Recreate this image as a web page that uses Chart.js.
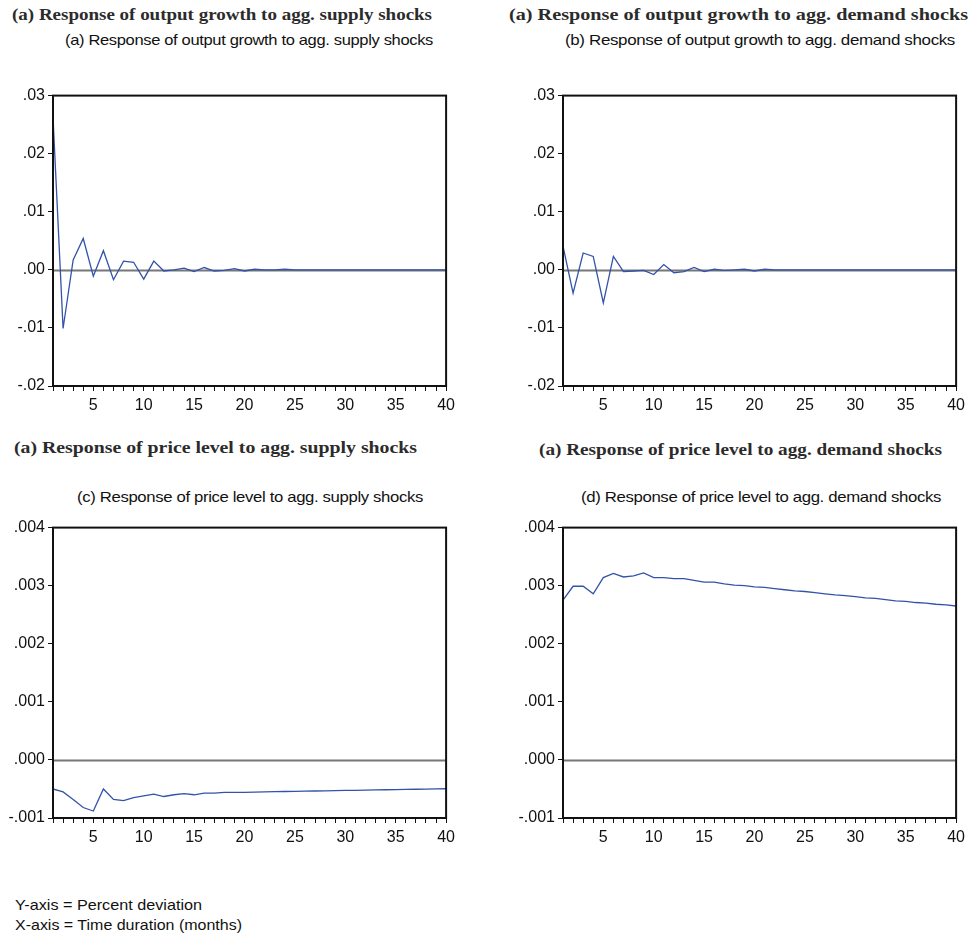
<!DOCTYPE html>
<html>
<head>
<meta charset="utf-8">
<script src="https://cdn.jsdelivr.net/npm/chart.js@4.4.1/dist/chart.umd.min.js"></script>
<style>
  html, body { margin: 0; padding: 0; background: #fff; }
  #page { position: relative; width: 970px; height: 934px; overflow: hidden; }
  .box { position: absolute; }
  .txt { position: absolute; white-space: nowrap; transform-origin: 0 50%; line-height: 1; }
  .head { font-family: "Liberation Serif", "DejaVu Serif", serif; font-weight: bold; font-size: 17.5px; color: #2b2b2b; }
  .sub { font-family: "Liberation Sans", Arial, sans-serif; font-size: 14.5px; color: #111; letter-spacing: -0.3px; }
  .note { font-family: "Liberation Sans", Arial, sans-serif; font-size: 14.5px; color: #111; }
</style>
</head>
<body>
<div id="page"></div>
<script>
// Impulse-response horizon (months)
const periods = [1, 2, 3, 4, 5, 6, 7, 8, 9, 10, 11, 12, 13, 14, 15, 16, 17, 18, 19, 20,
                 21, 22, 23, 24, 25, 26, 27, 28, 29, 30, 31, 32, 33, 34, 35, 36, 37, 38, 39, 40];
const xTickLabels = [5, 10, 15, 20, 25, 30, 35, 40];

// Output growth responses
const outputSupply = [0.0263, -0.0101, 0.0017, 0.0054, -0.0011, 0.0033, -0.0017, 0.0015, 0.0013, -0.0016,
                      0.0015, -0.0002, 0.0000, 0.0003, -0.0003, 0.0004, -0.0002, -0.0001, 0.0002, -0.0002,
                      0.0001, 0.0000, 0.0000, 0.0001, 0.0000, 0.0000, 0.0000, 0.0000, 0.0000, 0.0000,
                      0.0000, 0.0000, 0.0000, 0.0000, 0.0000, 0.0000, 0.0000, 0.0000, 0.0000, 0.0000];
const outputDemand = [0.0041, -0.0040, 0.0029, 0.0023, -0.0057, 0.0023, -0.0003, -0.0002, -0.0001, -0.0008,
                      0.0009, -0.0005, -0.0003, 0.0004, -0.0003, 0.0001, -0.0001, 0.0000, 0.0001, -0.0002,
                      0.0001, 0.0000, 0.0000, 0.0000, 0.0000, 0.0000, 0.0000, 0.0000, 0.0000, 0.0000,
                      0.0000, 0.0000, 0.0000, 0.0000, 0.0000, 0.0000, 0.0000, 0.0000, 0.0000, 0.0000];

// Price level responses
const priceSupply = [-0.00050, -0.00055, -0.00068, -0.00082, -0.00088, -0.00050, -0.00068, -0.00070, -0.00065, -0.00062,
                     -0.00059, -0.00063, -0.00060, -0.00058, -0.00060, -0.00057, -0.00057, -0.00056, -0.00056, -0.00056,
                     -0.000555, -0.000550, -0.000547, -0.000544, -0.000541, -0.000538, -0.000535, -0.000532, -0.000529, -0.000526,
                     -0.000523, -0.000520, -0.000517, -0.000514, -0.000511, -0.000508, -0.000505, -0.000502, -0.000499, -0.000496];
const priceDemand = [0.00275, 0.00299, 0.00299, 0.00286, 0.00314, 0.00321, 0.00315, 0.00317, 0.00322, 0.00314,
                     0.00314, 0.00312, 0.00312, 0.00309, 0.00306, 0.00306, 0.00303, 0.00301, 0.00300, 0.00298,
                     0.00297, 0.00295, 0.00293, 0.00291, 0.00290, 0.00288, 0.00286, 0.00284, 0.00283, 0.00281,
                     0.00279, 0.00278, 0.00276, 0.00274, 0.00273, 0.00271, 0.00270, 0.00268, 0.00267, 0.00265];

// Value-axis tick labels
const outputTicks = [-0.02, -0.01, 0.00, 0.01, 0.02, 0.03];
const priceTicks = [-0.001, 0.000, 0.001, 0.002, 0.003, 0.004];

// Headings
const headings = [
  { text: "(a) Response of output growth to agg. supply shocks", x: 12, y: 15, w: 420 },
  { text: "(a) Response of output growth to agg. demand shocks", x: 509, y: 15, w: 459 },
  { text: "(a) Response of price level to agg. supply shocks", x: 14, y: 448, w: 403 },
  { text: "(a) Response of price level to agg. demand shocks", x: 539, y: 450, w: 403 }
];
const subtitles = [
  "(a) Response of output growth to agg. supply shocks",
  "(b) Response of output growth to agg. demand shocks",
  "(c) Response of price level to agg. supply shocks",
  "(d) Response of price level to agg. demand shocks"
];
const subLayout = [
  { x: 65, y: 40, w: 368 },
  { x: 565, y: 40, w: 390 },
  { x: 77, y: 497, w: 346 },
  { x: 581, y: 497, w: 360 }
];
const notes = ["Y-axis = Percent deviation", "X-axis = Time duration (months)"];

const page = document.getElementById('page');

function placeText(cls, text, x, y, w) {
  const el = document.createElement('div');
  el.className = 'txt ' + cls;
  el.textContent = text;
  page.appendChild(el);
  const r = el.getBoundingClientRect();
  el.style.left = x + 'px';
  el.style.top = (y - r.height / 2) + 'px';
  if (w) el.style.transform = 'scaleX(' + (w / r.width) + ')';
}

headings.forEach(h => placeText('head', h.text, h.x, h.y, h.w));
subtitles.forEach((s, i) => placeText('sub', s, subLayout[i].x, subLayout[i].y, subLayout[i].w));
placeText('note', notes[0], 15, 905, 187);
placeText('note', notes[1], 15, 925, 227);

// Frame around the plot area and a zero reference line
const framePlugin = {
  id: 'frame',
  beforeDatasetsDraw(chart) {
    const { ctx, chartArea: a, scales: { y } } = chart;
    const z = Math.round(y.getPixelForValue(0)) + 0.5;
    ctx.save();
    ctx.strokeStyle = '#777';
    ctx.lineWidth = 2;
    ctx.beginPath();
    ctx.moveTo(a.left, z);
    ctx.lineTo(a.right, z);
    ctx.stroke();
    ctx.restore();
  },
  afterDatasetsDraw(chart) {
    const { ctx, chartArea: a } = chart;
    ctx.save();
    ctx.strokeStyle = '#111';
    ctx.lineWidth = 2;
    ctx.strokeRect(a.left, a.top, a.right - a.left, a.bottom - a.top);
    ctx.restore();
  }
};

function fmt(v, d) {
  return v.toFixed(d).replace(/^(-?)0\./, '$1.');
}

const tickFont = { family: '"Liberation Sans", Arial, sans-serif', size: 16 };

function makeChart(left, top, values, yTicks, decimals) {
  const W = 460, H = 330;
  const holder = document.createElement('div');
  holder.className = 'box';
  holder.style.left = left + 'px';
  holder.style.top = top + 'px';
  const cv = document.createElement('canvas');
  cv.width = W; cv.height = H;
  cv.style.width = W + 'px'; cv.style.height = H + 'px';
  holder.appendChild(cv);
  page.appendChild(holder);

  const step = yTicks[1] - yTicks[0];
  new Chart(cv, {
    type: 'line',
    data: {
      datasets: [{
        data: periods.map((p, i) => ({ x: p, y: values[i] })),
        borderColor: '#3353aa',
        borderWidth: 1.3,
        pointRadius: 0,
        tension: 0,
        fill: false
      }]
    },
    options: {
      responsive: false,
      animation: false,
      devicePixelRatio: 1,
      layout: { padding: { left: 0, top: 10, right: 13, bottom: 0 } },
      plugins: { legend: { display: false }, tooltip: { enabled: false }, title: { display: false } },
      scales: {
        x: {
          type: 'linear',
          min: periods[0],
          max: periods[periods.length - 1],
          afterFit(s) { s.height = 27; },
          border: { display: false },
          grid: { drawOnChartArea: false, drawTicks: true, tickLength: 5, color: '#111', lineWidth: 1 },
          ticks: {
            stepSize: 1,
            autoSkip: false,
            maxTicksLimit: 100,
            maxRotation: 0,
            padding: 5,
            color: '#111',
            font: tickFont,
            callback: v => xTickLabels.includes(v) ? String(v) : ''
          }
        },
        y: {
          min: yTicks[0],
          max: yTicks[yTicks.length - 1],
          afterFit(s) { s.width = 53; },
          afterBuildTicks(s) { s.ticks = yTicks.map(v => ({ value: v })); },
          border: { display: false },
          grid: { drawOnChartArea: false, drawTicks: true, tickLength: 5, color: '#111', lineWidth: 1 },
          ticks: {
            stepSize: step,
            padding: 3,
            color: '#111',
            font: tickFont,
            callback: v => fmt(v, decimals)
          }
        }
      }
    },
    plugins: [framePlugin]
  });
}

makeChart(0, 83, outputSupply, outputTicks, 2);
makeChart(510, 83, outputDemand, outputTicks, 2);
makeChart(0, 515, priceSupply, priceTicks, 3);
makeChart(510, 515, priceDemand, priceTicks, 3);
</script>
</body>
</html>
